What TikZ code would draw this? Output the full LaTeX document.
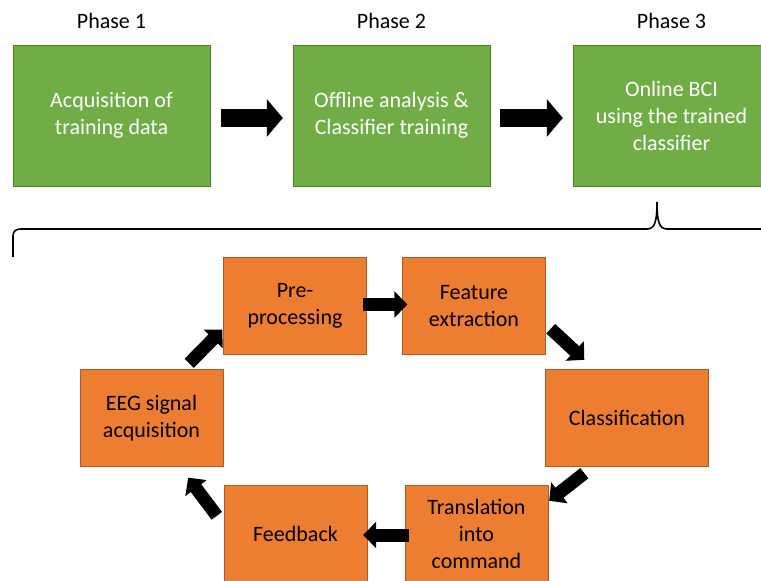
\documentclass[tikz,border=0pt]{standalone}
\usepackage{fontspec}
\setmainfont{Carlito}
\usetikzlibrary{arrows.meta}
\definecolor{greenfill}{HTML}{70AD47}
\definecolor{greenedge}{HTML}{507E32}
\definecolor{orangefill}{HTML}{ED7D31}
\definecolor{orangeedge}{HTML}{AE5A21}
\begin{document}
\begin{tikzpicture}[x=1pt,y=-1pt,font=\fontsize{22}{27}\selectfont,
	phasebox/.style={draw=greenedge,fill=greenfill,text=white,align=center,inner sep=0pt,minimum width=197pt,minimum height=141pt},
	stagebox/.style={draw=orangeedge,fill=orangefill,text=black,align=center,inner sep=0pt,minimum width=143pt,minimum height=97pt},
	bigarrow/.style={line width=18pt,-{Triangle[width=37pt,length=16pt]}},
	smallarrow/.style={line width=13pt,-{Triangle[width=26pt,length=13pt]}}]
	\useasboundingbox[fill=white] (0,0) rectangle (761,581);
	% phases
	\node[anchor=base] (ph1) at (111.5,28) {Phase 1};
	\node[anchor=base] (ph2) at (391.5,28) {Phase 2};
	\node[anchor=base] (ph3) at (671.5,28) {Phase 3};
	\node[phasebox] (acq) at (111.5,115.5) {Acquisition of\\training data};
	\node[phasebox] (off) at (391.5,115.5) {Offline analysis \&\\Classifier training};
	\node[phasebox] (onl) at (671.5,115.5) {Online BCI\\using the trained\\classifier};
	\draw[bigarrow] ([shift={(11,2.5)}]acq.east) -- ([shift={(-10,2.5)}]off.west);
	\draw[bigarrow] ([shift={(10,2.5)}]off.east) -- ([shift={(-10,2.5)}]onl.west);
	% brace
	\draw[line width=1.6pt] (13,257) -- (13,236) .. controls (13,231) and (16,229) .. (21,229) -- (647,229)
		.. controls (655,229) and (657,221) .. (657,202) .. controls (657,221) and (659,229) .. (667,229)
		-- (762,229) .. controls (767,229) and (770,231) .. (770,236) -- (770,257);
	% online loop
	\node[stagebox] (pre) at (295,306) {Pre-\\processing};
	\node[stagebox] (feat) at (474,306) {Feature\\extraction};
	\node[stagebox,minimum width=163pt] (cls) at (627,417.5) {Classification};
	\node[stagebox] (trans) at (476.5,533.5) {Translation\\into\\command};
	\node[stagebox] (fb) at (295.5,533.5) {Feedback};
	\node[stagebox] (eeg) at (151.5,418) {EEG signal\\acquisition};
	\draw[smallarrow] ([shift={(-4,-1.5)}]pre.east) -- ([shift={(5,-1.5)}]feat.west);
	\draw[smallarrow] ([shift={(5,-26)}]feat.south east) -- ([shift={(39,-9)}]cls.north west);
	\draw[smallarrow] ([shift={(39,7)}]cls.south west) -- ([shift={(1,16)}]trans.north east);
	\draw[smallarrow] ([shift={(4,1.5)}]trans.west) -- ([shift={(-4,1.5)}]fb.east);
	\draw[smallarrow] ([shift={(-7,31)}]fb.north west) -- ([shift={(-35,11)}]eeg.south east);
	\draw[smallarrow] ([shift={(-34,-6)}]eeg.north east) -- ([shift={(-1,-25)}]pre.south west);
\end{tikzpicture}
\end{document}
